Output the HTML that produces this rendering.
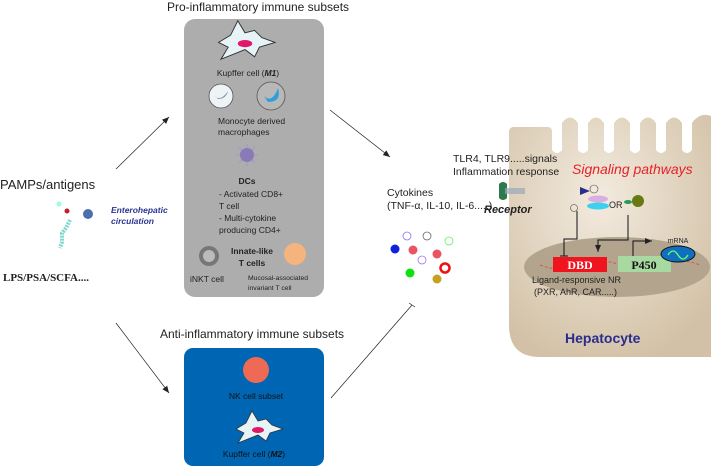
<!DOCTYPE html>
<html><head><meta charset="utf-8"><style>
body{margin:0;background:#fff;}
svg{display:block;font-family:"Liberation Sans",sans-serif;}
</style></head><body>
<svg width="711" height="467" viewBox="0 0 711 467" xmlns="http://www.w3.org/2000/svg">
<defs>
<marker id="ar" markerWidth="8" markerHeight="8" refX="7" refY="4" orient="auto" markerUnits="userSpaceOnUse"><path d="M0,1 L7,4 L0,7 Z" fill="#222"/></marker>
<radialGradient id="hep" cx="0.45" cy="0.35" r="0.7"><stop offset="0" stop-color="#f3ebdf"/><stop offset="1" stop-color="#d2c1a6"/></radialGradient>
<linearGradient id="rec" x1="0" x2="1"><stop offset="0" stop-color="#fff"/><stop offset="1" stop-color="#3a3aa0"/></linearGradient>
</defs>

<text x="258" y="11" font-size="12" text-anchor="middle" fill="#222">Pro-inflammatory immune subsets</text>
<text x="252" y="338" font-size="12" text-anchor="middle" fill="#222">Anti-inflammatory immune subsets</text>

<rect x="184" y="19" width="140" height="278" rx="11" fill="#adadad"/>
<g transform="translate(245,40) scale(1.2)">
<path d="M-22,2 L-12,-4 L-6,-16 L0,-6 L8,-8 L14,-2 L25,2 L12,6 L8,14 L0,8 L-10,12 L-20,16 L-14,6 Z" fill="#e6f4f8" stroke="#333" stroke-width="0.8"/>
<ellipse cx="0" cy="3" rx="6" ry="3" fill="#e0186a"/>
</g>
<text x="248" y="76" font-size="8.5" text-anchor="middle" fill="#222">Kupffer cell (<tspan font-weight="bold" font-style="italic">M1</tspan>)</text>
<circle cx="221" cy="96" r="12" fill="#eef3f6" stroke="#555" stroke-width="0.8"/>
<path d="M214,95 q6,8 14,-4 q-2,8 -10,8 z" fill="#7f97aa"/>
<circle cx="271" cy="96" r="14" fill="#b8b8b8" stroke="#555" stroke-width="0.8"/>
<path d="M264,96 q8,8 14,-8 q4,14 -10,14 z" fill="#2e9fd8"/>
<text x="218" y="124" font-size="8.5" fill="#222">Monocyte derived</text>
<text x="218" y="135" font-size="8.5" fill="#222">macrophages</text>
<g stroke="#a596c8" stroke-width="1"><line x1="236" y1="155" x2="258" y2="155"/><line x1="247" y1="144" x2="247" y2="166"/><line x1="239" y1="147" x2="255" y2="163"/><line x1="255" y1="147" x2="239" y2="163"/></g>
<circle cx="247" cy="155" r="7" fill="#8a7ab8"/>
<text x="247" y="184" font-size="8.5" font-weight="bold" text-anchor="middle" fill="#222">DCs</text>
<text x="219" y="197" font-size="8.5" fill="#222">- Activated CD8+</text>
<text x="219" y="209" font-size="8.5" fill="#222">T cell</text>
<text x="219" y="221" font-size="8.5" fill="#222">- Multi-cytokine</text>
<text x="219" y="233" font-size="8.5" fill="#222">producing CD4+</text>
<circle cx="209" cy="256" r="10" fill="#777"/><circle cx="209" cy="256" r="6" fill="#bbb"/>
<circle cx="295" cy="254" r="11" fill="#f5b47d"/>
<text x="252" y="254" font-size="8.5" font-weight="bold" text-anchor="middle" fill="#222">Innate-like</text>
<text x="252" y="266" font-size="8.5" font-weight="bold" text-anchor="middle" fill="#222">T cells</text>
<text x="190" y="282" font-size="8.5" fill="#222">iNKT cell</text>
<text x="248" y="280" font-size="6.8" fill="#222">Mucosal-associated</text>
<text x="248" y="290" font-size="6.8" fill="#222">invariant T cell</text>

<rect x="184" y="348" width="140" height="118" rx="9" fill="#0066b3"/>
<circle cx="256" cy="370" r="13" fill="#ef6a55"/>
<text x="256" y="399" font-size="8.5" text-anchor="middle" fill="#111">NK cell subset</text>
<g transform="translate(258,427)">
<path d="M-22,2 L-12,-4 L-6,-16 L0,-6 L8,-8 L14,-2 L25,2 L12,6 L8,14 L0,8 L-10,12 L-20,16 L-14,6 Z" fill="#e6f4f8" stroke="#333" stroke-width="0.8"/>
<ellipse cx="0" cy="3" rx="6" ry="3" fill="#e0186a"/>
</g>
<text x="254" y="457" font-size="8.5" text-anchor="middle" fill="#111">Kupffer cell (<tspan font-weight="bold" font-style="italic">M2</tspan>)</text>

<text x="0" y="189" font-size="13" fill="#222">PAMPs/antigens</text>
<circle cx="59" cy="204" r="2.5" fill="#9fd"/>
<circle cx="67" cy="211" r="2.5" fill="#c0202a"/>
<circle cx="88" cy="214" r="5" fill="#4a70b0"/>
<path d="M70,220 L66,228 L62,233 L62,242 L60,248" stroke="#7fd8cc" stroke-width="4" fill="none" stroke-dasharray="2,1"/>
<text x="111" y="213" font-size="8.5" font-weight="bold" font-style="italic" fill="#2a3590">Enterohepatic</text>
<text x="111" y="224" font-size="8.5" font-weight="bold" font-style="italic" fill="#2a3590">circulation</text>
<text x="3" y="281" font-size="11" font-weight="bold" font-family="Liberation Serif,serif" fill="#222">LPS/PSA/SCFA....</text>

<g stroke="#222" stroke-width="0.7" fill="none">
<line x1="116" y1="169" x2="169" y2="117" marker-end="url(#ar)"/>
<line x1="116" y1="323" x2="169" y2="393" marker-end="url(#ar)"/>
<line x1="330" y1="110" x2="390" y2="157" marker-end="url(#ar)"/>
<line x1="331" y1="398" x2="412" y2="305"/>
<line x1="409" y1="303" x2="415" y2="307"/>
</g>

<!-- Hepatocyte -->
<path d="M509,132 Q509,127 514,127 L548,127 Q552,127 552,132 L552,150 Q557,156 562,150 L562,123 Q570,112 578,123 L578,150 Q583,156 588,150 L588,123 Q596,112 604,123 L604,150 Q609,156 614,150 L614,123 Q622,112 630,123 L630,150 Q635,156 640,150 L640,123 Q648,112 656,123 L656,150 Q661,156 666,150 L666,123 Q674,112 682,123 L682,150 Q687,156 692,150 L692,123 Q700,112 711,116 L711,357 L540,357 Q509,357 509,325 Z" fill="url(#hep)"/>
<ellipse cx="617" cy="267" rx="93" ry="30" fill="#b3a48e"/>
<text x="565" y="343" font-size="14" font-weight="bold" fill="#2a2d8c">Hepatocyte</text>
<text x="572" y="174" font-size="14" font-style="italic" fill="#e8202a">Signaling pathways</text>
<text x="453" y="162" font-size="10.5" fill="#222">TLR4, TLR9.....signals</text>
<text x="453" y="175" font-size="10.5" fill="#222">Inflammation response</text>
<line x1="455" y1="191" x2="582" y2="191" stroke="url(#rec)" stroke-width="2"/>
<path d="M580,187 L590,191 L580,195 Z" fill="#2a2d8c"/>
<path d="M499,184 q4,-4 8,0 l0,14 q-4,4 -8,0 z" fill="#2f7a4c"/>
<rect x="505" y="188" width="20" height="6" fill="#9ab" opacity="0.7"/>
<text x="484" y="213" font-size="11" font-weight="bold" font-style="italic" fill="#222">Receptor</text>
<circle cx="594" cy="189" r="4" fill="none" stroke="#444" stroke-width="0.6"/>
<circle cx="574" cy="208" r="3.5" fill="none" stroke="#444" stroke-width="0.6"/>
<ellipse cx="598" cy="199" rx="10" ry="3.5" fill="#d8b0e0"/>
<ellipse cx="598" cy="206" rx="11" ry="3.5" fill="#3fd0f0"/>
<text x="609" y="208" font-size="9" fill="#222">OR</text>
<ellipse cx="628" cy="202" rx="4" ry="2" fill="#2a9a5a"/>
<circle cx="638" cy="201" r="6" fill="#667a10"/>
<g stroke="#111" stroke-width="1" fill="none">
<polyline points="577,211 577,239 564,239 564,256"/>
<line x1="560" y1="256" x2="568" y2="256"/>
<polyline points="628,215 628,240 598,240 598,252" marker-end="url(#ar)"/>
<polyline points="633,256 633,241 652,241" marker-end="url(#ar)"/>
</g>
<path d="M540,265 q20,8 40,0 t40,0 t40,0 t40,0" stroke="#e05050" stroke-width="1" fill="none" stroke-dasharray="3,2"/>
<rect x="553" y="257" width="54" height="15" fill="#f0141e"/>
<text x="580" y="269" font-size="12" font-weight="bold" font-family="Liberation Serif,serif" text-anchor="middle" fill="#fff">DBD</text>
<rect x="618" y="256" width="53" height="16" fill="#a8d9a0"/>
<text x="644" y="269" font-size="12" font-weight="bold" font-family="Liberation Serif,serif" text-anchor="middle" fill="#111">P450</text>
<ellipse cx="678" cy="254" rx="17" ry="8" fill="#1070c0" stroke="#111" stroke-width="1"/>
<path d="M668,255 q5,-8 10,0 t10,0" stroke="#6f6" stroke-width="1.3" fill="none"/>
<text x="678" y="243" font-size="7" text-anchor="middle" fill="#222">mRNA</text>
<text x="532" y="283" font-size="9" fill="#222">Ligand-responsive NR</text>
<text x="534" y="295" font-size="9" fill="#222">(PXR, AhR, CAR.....)</text>

<text x="387" y="196" font-size="10.5" fill="#222">Cytokines</text>
<text x="387" y="209" font-size="10.5" fill="#222">(TNF-α, IL-10, IL-6.....)</text>
<g>
<circle cx="395" cy="249" r="4.5" fill="#1020e0"/>
<circle cx="407" cy="236" r="4" fill="none" stroke="#8a70ff" stroke-width="0.8"/>
<circle cx="427" cy="236" r="4" fill="none" stroke="#666" stroke-width="0.8"/>
<circle cx="449" cy="241" r="4" fill="none" stroke="#6e6" stroke-width="0.8"/>
<circle cx="413" cy="250" r="4.5" fill="#e85560"/>
<circle cx="437" cy="254" r="4.5" fill="#e85560"/>
<circle cx="422" cy="260" r="4" fill="none" stroke="#a070ff" stroke-width="0.8"/>
<circle cx="410" cy="273" r="4.5" fill="#10e010"/>
<circle cx="445" cy="268" r="4.5" fill="none" stroke="#f01010" stroke-width="2.5"/>
<circle cx="437" cy="279" r="4.5" fill="#c8a020"/>
</g>
</svg>
</body></html>
